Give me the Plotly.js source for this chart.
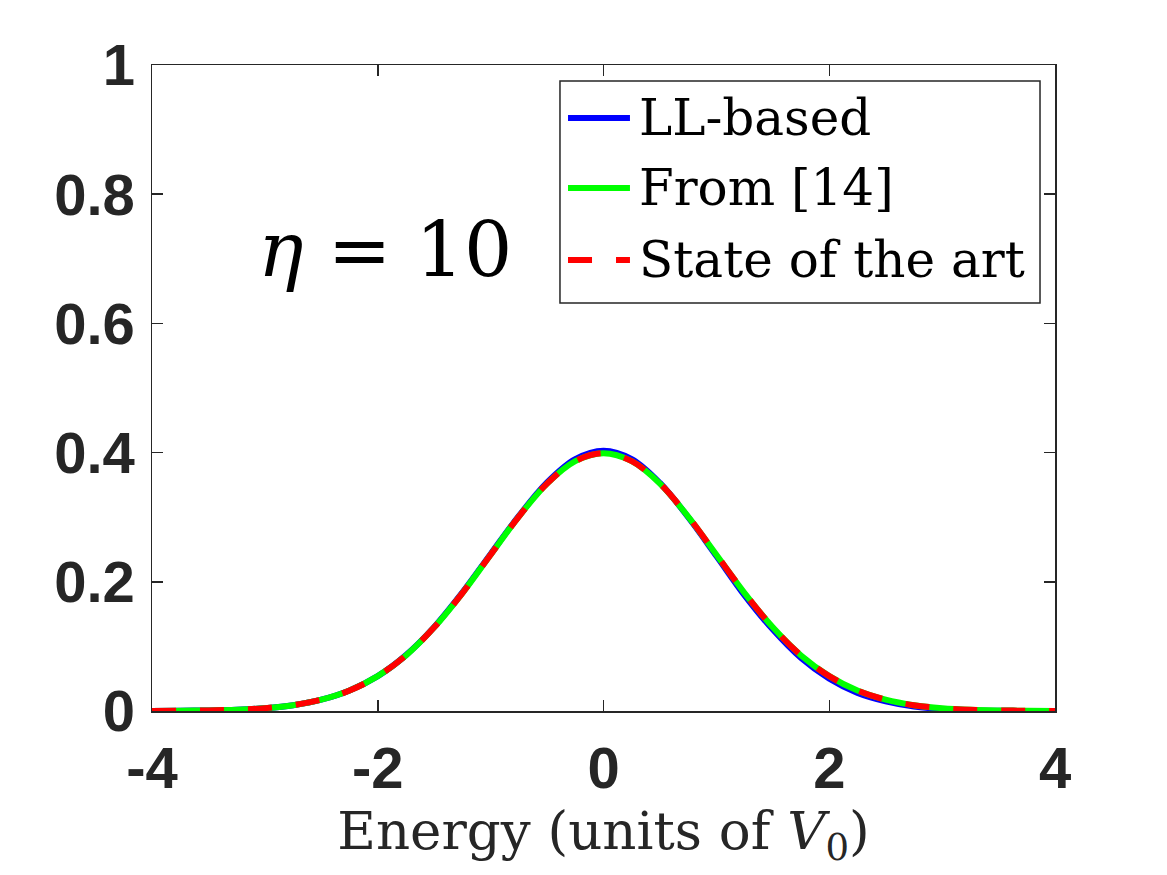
<!DOCTYPE html>
<html>
<head>
<meta charset="utf-8">
<script src="https://cdn.plot.ly/plotly-3.0.1.min.js"></script>
<style>
  html, body { margin: 0; padding: 0; background: #fff; }
  #graph { width: 1167px; height: 875px; }
</style>
</head>
<body>
<div id="graph"></div>
<script>
// energy grid (units of V0)
let energy = [-4, -3.75, -3.5, -3.25, -3, -2.75, -2.5, -2.25, -2, -1.75, -1.5, -1.25, -1, -0.75, -0.5, -0.25,
              0, 0.25, 0.5, 0.75, 1, 1.25, 1.5, 1.75, 2, 2.25, 2.5, 2.75, 3, 3.25, 3.5, 3.75, 4];

// values
let llBased = [0.0001, 0.0004, 0.0009, 0.002, 0.0044, 0.009, 0.0175, 0.0318, 0.054, 0.0865, 0.13, 0.1835, 0.243, 0.302, 0.354, 0.390,
               0.403, 0.390, 0.353, 0.300, 0.240, 0.179, 0.126, 0.082, 0.050, 0.028, 0.015, 0.007, 0.003, 0.0012, 0.0004, 0.0001, 0.0];
let from14 = [0.0001, 0.0004, 0.0009, 0.002, 0.0044, 0.009, 0.0175, 0.0317, 0.054, 0.086, 0.1295, 0.1826, 0.242, 0.301, 0.352, 0.3867,
              0.399, 0.3867, 0.352, 0.301, 0.242, 0.1826, 0.1295, 0.086, 0.054, 0.0317, 0.0175, 0.009, 0.0044, 0.002, 0.0009, 0.0004, 0.0001];
let stateArt = [0.0001, 0.0004, 0.0009, 0.002, 0.0044, 0.009, 0.0175, 0.0317, 0.054, 0.086, 0.1295, 0.1826, 0.242, 0.301, 0.352, 0.3867,
                0.399, 0.3867, 0.352, 0.301, 0.242, 0.1826, 0.1295, 0.086, 0.054, 0.0317, 0.0175, 0.009, 0.0044, 0.002, 0.0009, 0.0004, 0.0001];

let seriesNames = ["LL-based", "From [14]", "State of the art"];
let seriesColors = ["#0000ff", "#00ff00", "#ff0000"];
let seriesDash = ["solid", "solid", "24px,24px"];

let xTicks = [-4, -2, 0, 2, 4];
let yTicks = [0, 0.2, 0.4, 0.6, 0.8, 1];
let yTickText = ["0", "0.2", "0.4", "0.6", "0.8", "1"];

const serif = "DejaVu Serif, Liberation Serif, serif";

function plot() {
    let values = [llBased, from14, stateArt];
    let data = values.map((v, i) => ({
        x: energy,
        y: v,
        name: seriesNames[i],
        type: "scatter",
        mode: "lines",
        showlegend: false,
        line: { color: seriesColors[i], width: 6, shape: "spline", dash: seriesDash[i] }
    }));

    let axisCommon = {
        showline: true,
        mirror: "ticks",
        linecolor: "#262626",
        linewidth: 1.5,
        ticks: "inside",
        ticklen: 11,
        tickwidth: 1.5,
        tickcolor: "#262626",
        showgrid: false,
        zeroline: false,
        tickfont: { family: "Liberation Sans, Arial, sans-serif", size: 58, color: "#262626", weight: "bold" }
    };

    // hand-drawn legend box like the MATLAB one (paper coordinates)
    let legBox = { x0: 0.4518, x1: 0.9834, y0: 0.6316, y1: 0.9752 };
    let rowY = [0.918, 0.8096, 0.6981];
    let sampleX = [0.4607, 0.5293];
    let textX = 0.5371;

    let shapes = [{
        type: "rect", xref: "paper", yref: "paper",
        x0: legBox.x0, x1: legBox.x1, y0: legBox.y0, y1: legBox.y1,
        fillcolor: "#ffffff", line: { color: "#262626", width: 1.5 }, layer: "above"
    }];
    let annotations = [];
    seriesNames.forEach((name, i) => {
        shapes.push({
            type: "line", xref: "paper", yref: "paper",
            x0: sampleX[0], x1: sampleX[1], y0: rowY[i], y1: rowY[i],
            line: { color: seriesColors[i], width: 6, dash: seriesDash[i] }, layer: "above"
        });
        annotations.push({
            xref: "paper", yref: "paper", x: textX, y: rowY[i],
            xanchor: "left", yanchor: "middle", showarrow: false,
            text: name, font: { family: serif, size: 50, color: "#000000" }
        });
    });

    annotations.push({
        xref: "paper", yref: "paper", x: 0.258, y: 0.715,
        xanchor: "center", yanchor: "middle", showarrow: false,
        text: "<i>η</i> = 10",
        font: { family: serif, size: 76, color: "#000000" }
    });

    let layout = {
        width: 1167,
        height: 875,
        margin: { l: 152, r: 112, t: 65, b: 164 },
        paper_bgcolor: "#ffffff",
        plot_bgcolor: "#ffffff",
        showlegend: false,
        xaxis: Object.assign({}, axisCommon, {
            range: [-4, 4],
            tickvals: xTicks,
            ticktext: xTicks.map(String),
            ticklabelstandoff: 6,
            title: {
                text: "Energy (units of <i>V</i><sub>0</sub>)",
                font: { family: serif, size: 53, color: "#262626" },
                standoff: 0
            }
        }),
        yaxis: Object.assign({}, axisCommon, {
            range: [0, 1],
            tickvals: yTicks,
            ticktext: yTickText,
            ticklabelstandoff: 4
        }),
        shapes: shapes,
        annotations: annotations
    };

    Plotly.newPlot("graph", data, layout, { displayModeBar: false, staticPlot: true });
}

plot();
</script>
</body>
</html>
